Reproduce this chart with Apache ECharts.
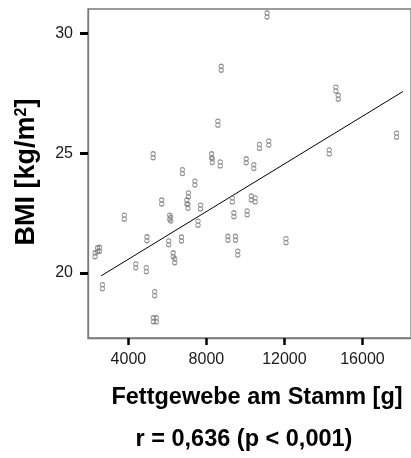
<!DOCTYPE html>
<html>
<head>
<meta charset="utf-8">
<script src="https://cdn.jsdelivr.net/npm/echarts@6/dist/echarts.min.js"></script>
<style>
  html, body { margin: 0; padding: 0; background: #fff; }
  #chart { width: 411px; height: 458px; }
</style>
</head>
<body>
<div id="chart"></div>
<script>
// Trunk fat mass (g) and BMI (kg/m²) per subject
const fettgewebe = [
  11110, 8760, 8590, 14640, 14760, 17750, 14300, 10720, 11200, 5270,
  8270, 8300, 8710, 10040, 10430, 6770, 7410, 7080, 7000, 7060,
  5710, 7700, 3790, 6120, 6170, 7570, 9330, 10300, 10500, 9410,
  10090, 4950, 6070, 6720, 9100, 9490, 12080, 9610, 6300, 6380,
  2290, 2420, 2520, 4380, 4920, 2670, 5350, 5280, 5430
];
const bmi = [
  30.76, 28.54, 26.25, 27.67, 27.33, 25.75, 25.05, 25.28, 25.42, 24.89,
  24.89, 24.69, 24.55, 24.68, 24.44, 24.23, 23.75, 23.26, 22.96, 22.78,
  22.96, 22.75, 22.33, 22.33, 22.25, 22.08, 23.05, 23.13, 23.05, 22.43,
  22.51, 21.43, 21.26, 21.42, 21.45, 21.45, 21.35, 20.83, 20.76, 20.51,
  20.76, 20.97, 20.99, 20.30, 20.14, 19.43, 19.14, 18.05, 18.05
];

// Linear fit line, endpoints
const fitX = [2600, 18080];
const fitY = [19.88, 27.57];

// Tick values
const xTicks = [4000, 8000, 12000, 16000];
const yTicks = [20, 25, 30];

// Texts
const xTitle = 'Fettgewebe am Stamm [g]';
const statText = 'r = 0,636 (p < 0,001)';

const points = fettgewebe.map((v, i) => [v, bmi[i]]);
const fitLine = fitX.map((v, i) => [v, fitY[i]]);

// small glyph-like marker: two stacked loops
const glyph = 'path://M2,0 C3.1,0 4,0.8 4,1.75 C4,2.7 3.1,3.5 2,3.5 C0.9,3.5 0,2.7 0,1.75 C0,0.8 0.9,0 2,0 Z ' +
              'M2,3.5 C3.1,3.5 4,4.3 4,5.25 C4,6.2 3.1,7 2,7 C0.9,7 0,6.2 0,5.25 C0,4.3 0.9,3.5 2,3.5 Z';

const chart = echarts.init(document.getElementById('chart'), null, { renderer: 'canvas' });

const axisFont = { fontFamily: '"Liberation Sans", Arial, sans-serif', fontSize: 16, color: '#1a1a1a' };
const plain = v => String(v);

chart.setOption({
  animation: false,
  backgroundColor: '#fff',
  grid: {
    left: 88, top: 9, right: -1, bottom: 120,
    show: true, borderColor: '#7a7a7a', borderWidth: 1.3, backgroundColor: 'transparent'
  },
  xAxis: {
    type: 'value',
    min: 1930, max: 18490,
    axisLine: { show: true, onZero: false, lineStyle: { color: '#7a7a7a', width: 1.3 } },
    axisTick: { show: true, customValues: xTicks, length: 7, lineStyle: { color: '#000', width: 2.5 } },
    axisLabel: Object.assign({ customValues: xTicks, margin: 14, formatter: plain }, axisFont),
    splitLine: { show: false }
  },
  yAxis: {
    type: 'value',
    min: 17.29, max: 31.01,
    axisLine: { show: true, onZero: false, lineStyle: { color: '#7a7a7a', width: 1.3 } },
    axisTick: { show: true, customValues: yTicks, length: 8, lineStyle: { color: '#000', width: 3 } },
    axisLabel: Object.assign({ customValues: yTicks, margin: 15, formatter: plain }, axisFont),
    splitLine: { show: false }
  },
  series: [
    {
      type: 'scatter',
      data: points,
      symbol: glyph,
      symbolSize: [4.5, 8],
      itemStyle: { color: 'transparent', borderColor: '#747474', borderWidth: 1 },
      z: 3
    },
    {
      type: 'line',
      data: fitLine,
      symbol: 'none',
      lineStyle: { color: '#000', width: 1 },
      z: 2
    }
  ],
  graphic: [
    {
      type: 'text',
      x: 27, y: 172,
      rotation: Math.PI / 2,
      style: {
        text: 'BMI [kg/m{sup|2}]',
        font: 'bold 27px "Liberation Sans", Arial, sans-serif',
        fill: '#000',
        align: 'center',
        verticalAlign: 'middle',
        rich: {
          sup: { font: 'bold 16px "Liberation Sans", Arial, sans-serif', fill: '#000', verticalAlign: 'top', padding: [0, 0, 11, 0] }
        }
      }
    },
    {
      type: 'text',
      x: 257, y: 398,
      style: {
        text: xTitle,
        font: 'bold 23.5px "Liberation Sans", Arial, sans-serif',
        fill: '#000',
        align: 'center',
        verticalAlign: 'middle'
      }
    },
    {
      type: 'text',
      x: 244, y: 440,
      style: {
        text: statText,
        font: 'bold 23.5px "Liberation Sans", Arial, sans-serif',
        fill: '#000',
        align: 'center',
        verticalAlign: 'middle'
      }
    }
  ]
});
</script>
</body>
</html>
